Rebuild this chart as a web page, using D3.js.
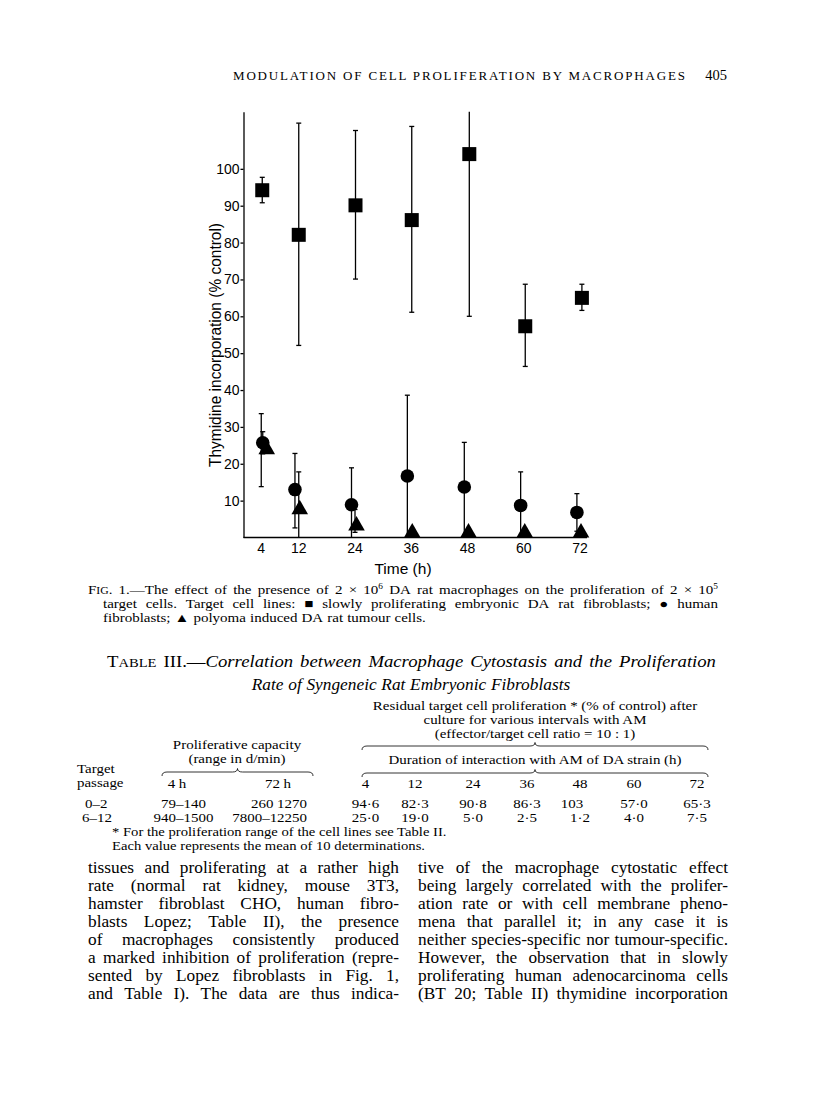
<!DOCTYPE html>
<html>
<head>
<meta charset="utf-8">
<script src="https://cdn.jsdelivr.net/npm/d3@7"></script>
<style>
  body { margin: 0; background: #fff; }
  svg { display: block; }
</style>
</head>
<body>
<svg id="page" width="816" height="1119"></svg>
<script>
"use strict";

// ---- data ----
const times = [4, 12, 24, 36, 48, 60, 72];
const yTicks = [10, 20, 30, 40, 50, 60, 70, 80, 90, 100];

// slowly proliferating embryonic DA rat fibroblasts (squares)
const fibroMean = [94.2, 82.1, 90.1, 86.1, 104.0, 57.3, 65.0];
const fibroLow  = [90.8, 52.1, 70.1, 61.1, 60.0, 46.4, 61.6];
const fibroHigh = [97.7, 112.4, 110.4, 111.5, 118, 68.7, 68.7];

// human fibroblasts (circles)
const humanMean = [25.7, 13.0, 8.9, 16.7, 13.7, 8.7, 6.8];
const humanLow  = [22.7, 2.6, 0, 0, 0, 0, 1.7];
const humanHigh = [28.7, 22.8, 18.9, 38.6, 25.8, 17.8, 11.9];

// polyoma induced DA rat tumour cells (triangles)
const tumourMean = [24.5, 8.2, 3.8, 1.9, 1.9, 1.9, 1.9];
const tumourLow  = [13.8, 0, 1.4, 1.9, 1.9, 1.9, 1.9];
const tumourHigh = [33.6, 17.8, 7.6, 1.9, 1.9, 1.9, 1.9];

// table III
const tableHours = ['4', '12', '24', '36', '48', '60', '72'];
const tablePassage = ['0–2', '6–12'];
const tableCap4h = ['79–140', '940–1500'];
const tableCap72h = ['260 1270', '7800–12250'];
const tableResidual = [
  ['94·6', '82·3', '90·8', '86·3', '103', '57·0', '65·3'],
  ['25·0', '19·0', '5·0', '2·5', '1·2', '4·0', '7·5']
];

// {..} small capitals, ^ superscript, _ starts italic
const captionLines = [
  'F{IG}. 1.—The effect of the presence of 2 × 10^6 DA rat macrophages on the proliferation of 2 × 10^5',
  'target cells.  Target cell lines: ■ slowly proliferating embryonic DA rat fibroblasts; ● human',
  'fibroblasts; ▲ polyoma induced DA rat tumour cells.'
];
const tableTitle = [
  'T{ABLE} III.—_Correlation between Macrophage Cytostasis and the Proliferation',
  '_Rate of Syngeneic Rat Embryonic Fibroblasts'
];
const leftColumn = [
  'tissues and proliferating at a rather high',
  'rate (normal rat kidney, mouse 3T3,',
  'hamster fibroblast CHO, human fibro-',
  'blasts Lopez; Table II), the presence',
  'of macrophages consistently produced',
  'a marked inhibition of proliferation (repre-',
  'sented by Lopez fibroblasts in Fig. 1,',
  'and Table I).  The data are thus indica-'
];
const rightColumn = [
  'tive of the macrophage cytostatic effect',
  'being largely correlated with the prolifer-',
  'ation rate or with cell membrane pheno-',
  'mena that parallel it; in any case it is',
  'neither species-specific nor tumour-specific.',
  'However, the observation that in slowly',
  'proliferating human adenocarcinoma cells',
  '(BT 20; Table II) thymidine incorporation'
];

const SERIF = '"Liberation Serif", "DejaVu Serif", serif';
const SANS = '"Liberation Sans", Arial, sans-serif';

const svg = d3.select('#page');
svg.append('rect').attr('width', 816).attr('height', 1119).attr('fill', '#fff');

// the book face is wider than Times, so glyphs get stretched a bit
function widen(sel, k) {
  sel.each(function () {
    const w = this.getComputedTextLength();
    d3.select(this).attr('textLength', w * k).attr('lengthAdjust', 'spacingAndGlyphs');
  });
  return sel;
}

function addWord(t, w, state) {
  w.split(/(\{[^}]*\}|\^\S*|_)/).filter(p => p !== '').forEach(p => {
    if (p === '_') { state.italic = true; return; }
    const ts = t.append('tspan');
    if (state.italic) ts.attr('font-style', 'italic');
    if (p[0] === '{') ts.attr('font-size', '0.78em').text(p.slice(1, -1));
    else if (p[0] === '^') ts.attr('font-size', '0.62em').attr('dy', -5).text(p.slice(1));
    else ts.text(p);
  });
}

// set a line word by word; full justification unless natural
function setLine(g, str, x0, yy, width, k, natural) {
  const state = { italic: false };
  const words = str.split(/\s+/);
  const nodes = words.map(w => {
    const t = g.append('text').attr('y', yy);
    addWord(t, w, state);
    return t;
  });
  const ws = nodes.map(t => t.node().getComputedTextLength() * k);
  nodes.forEach((t, i) => t.attr('textLength', ws[i]).attr('lengthAdjust', 'spacingAndGlyphs'));
  const fs = +g.attr('font-size');
  const gap = natural ? fs * 0.27 * k : (width - d3.sum(ws)) / (words.length - 1);
  let cx = x0;
  if (natural === 'middle') cx = x0 - (d3.sum(ws) + gap * (words.length - 1)) / 2;
  nodes.forEach((t, i) => { t.attr('x', cx); cx += ws[i] + gap; });
}

// ---- running head ----
svg.append('text')
  .attr('x', 233).attr('y', 80)
  .attr('font-family', SERIF).attr('font-size', 13)
  .attr('textLength', 452).attr('lengthAdjust', 'spacing')
  .text('MODULATION OF CELL PROLIFERATION BY MACROPHAGES');
svg.append('text')
  .attr('x', 727).attr('y', 80).attr('text-anchor', 'end')
  .attr('font-family', SERIF).attr('font-size', 14.5)
  .text('405');

// ---- the chart ----
const x = d3.scaleLinear().domain([0, 73.6]).range([242, 587]);
const y = d3.scaleLinear().domain([0, 115.5]).range([537.5, 111.7]);

const chart = svg.append('g').attr('font-family', SANS);

const yAxis = d3.axisLeft(y).tickValues(yTicks).tickSize(3).tickSizeOuter(0).tickPadding(1);
chart.append('g')
  .attr('transform', 'translate(243.5,0)')
  .call(yAxis)
  .call(g => g.selectAll('text').attr('font-size', 14).attr('font-family', SANS).attr('fill', '#000'))
  .call(g => g.selectAll('line, path').attr('stroke', '#000').attr('stroke-width', 1.3));

const xAxis = d3.axisBottom(x).tickValues(times).tickSize(0).tickSizeOuter(0).tickPadding(6);
chart.append('g')
  .attr('transform', 'translate(0,537.5)')
  .call(xAxis)
  .call(g => g.select('.domain').attr('d', `M${243.5},0H${x.range()[1]}`))
  .call(g => g.selectAll('text').attr('font-size', 14).attr('font-family', SANS).attr('fill', '#000'))
  .call(g => g.selectAll('line, path').attr('stroke', '#000').attr('stroke-width', 1.3));

chart.append('text')
  .attr('x', 403).attr('y', 574).attr('text-anchor', 'middle')
  .attr('font-size', 15.5)
  .text('Time  (h)');

chart.append('text')
  .attr('transform', 'translate(221,345) rotate(-90)')
  .attr('text-anchor', 'middle')
  .attr('font-size', 16)
  .attr('textLength', 244).attr('lengthAdjust', 'spacingAndGlyphs')
  .text('Thymidine  incorporation  (% control)');

const yTop = y.domain()[1];

function errorBars(low, high, dx) {
  const g = chart.append('g').attr('stroke', '#000').attr('stroke-width', 1.3);
  times.forEach((t, i) => {
    if (high[i] - low[i] < 0.5) return;
    const cx = x(t) + dx[i];
    const hi = Math.min(high[i], yTop);
    g.append('line')
      .attr('x1', cx).attr('x2', cx)
      .attr('y1', y(low[i])).attr('y2', y(hi));
    if (high[i] < yTop) {
      g.append('line').attr('x1', cx - 2.5).attr('x2', cx + 2.5)
        .attr('y1', y(high[i])).attr('y2', y(high[i]));
    }
    if (low[i] > 0) {
      g.append('line').attr('x1', cx - 2.5).attr('x2', cx + 2.5)
        .attr('y1', y(low[i])).attr('y2', y(low[i]));
    }
  });
}

// small horizontal dodge of each series, in px
const sqDx = [1.5, 0.5, 1, 1, 2.3, 2, 2.4];
const triDx = [6, 1.5, 2, 1.5, 1.5, 1.5, 1.5];
const circDx = [2, -3.3, -3, -3.4, -2.7, -2.6, -2.6];

// squares
errorBars(fibroLow, fibroHigh, sqDx);
chart.append('g').selectAll('rect')
  .data(times)
  .join('rect')
  .attr('x', (t, i) => x(t) + sqDx[i] - 7)
  .attr('y', (t, i) => y(fibroMean[i]) - 7)
  .attr('width', 14).attr('height', 14)
  .attr('fill', '#000');

// triangles
errorBars(tumourLow, tumourHigh, times.map(() => 0.5));
chart.append('g').selectAll('path')
  .data(times)
  .join('path')
  .attr('d', (t, i) => {
    const cx = x(t) + triDx[i], cy = y(tumourMean[i]);
    return `M${cx},${cy - 7.5}L${cx + 8.3},${cy + 7}L${cx - 8.3},${cy + 7}Z`;
  })
  .attr('fill', '#000');

// circles
errorBars(humanLow, humanHigh, circDx);
chart.append('g').selectAll('circle')
  .data(times)
  .join('circle')
  .attr('cx', (t, i) => x(t) + circDx[i])
  .attr('cy', (t, i) => y(humanMean[i]))
  .attr('r', 6.8)
  .attr('fill', '#000');

// ---- caption ----
const cap = svg.append('g').attr('font-family', SERIF).attr('font-size', 12.5);
setLine(cap, captionLines[0], 88, 594, 630, 1.2);
setLine(cap, captionLines[1], 103, 608, 615, 1.2);
setLine(cap, captionLines[2], 103, 622, 0, 1.2, true);

// ---- table III ----
const tt = svg.append('g').attr('font-family', SERIF).attr('font-size', 17);
setLine(tt, tableTitle[0], 107, 667, 609, 1.1);
setLine(tt, tableTitle[1], 411, 690, 0, 1.02, 'middle');

const tab = svg.append('g').attr('font-family', SERIF).attr('font-size', 13);
const K = 1.15;
const midR = 535;
[['Residual target cell proliferation * (% of control) after', 710],
 ['culture for various intervals with AM', 724],
 ['(effector/target cell ratio = 10 : 1)', 738],
 ['Duration of interaction with AM of DA strain (h)', 764]].forEach(([s, yy]) => {
  widen(tab.append('text').attr('x', midR).attr('y', yy).attr('text-anchor', 'middle').text(s), K);
});
widen(tab.append('text').attr('x', 237).attr('y', 749).attr('text-anchor', 'middle').text('Proliferative capacity'), K);
widen(tab.append('text').attr('x', 237).attr('y', 763).attr('text-anchor', 'middle').text('(range in d/min)'), K);
widen(tab.append('text').attr('x', 77).attr('y', 773).text('Target'), K);
widen(tab.append('text').attr('x', 77).attr('y', 787).text('passage'), K);

function brace(x0, x1, yy) {
  const m = (x0 + x1) / 2;
  const p = d3.path();
  p.moveTo(x0, yy + 4);
  p.quadraticCurveTo(x0, yy, x0 + 5, yy);
  p.lineTo(m - 5, yy);
  p.quadraticCurveTo(m, yy, m, yy - 3.5);
  p.quadraticCurveTo(m, yy, m + 5, yy);
  p.lineTo(x1 - 5, yy);
  p.quadraticCurveTo(x1, yy, x1, yy + 4);
  tab.append('path').attr('d', p.toString())
    .attr('fill', 'none').attr('stroke', '#000').attr('stroke-width', 0.8);
}
brace(362, 708, 746);
brace(162, 313, 772);
brace(362, 708, 773);

const hourCols = [365.5, 415, 473, 527, 580, 634, 697];
widen(tab.append('text').attr('x', 177).attr('y', 788).attr('text-anchor', 'middle').text('4 h'), K);
widen(tab.append('text').attr('x', 278).attr('y', 788).attr('text-anchor', 'middle').text('72 h'), K);
tableHours.forEach((h, i) => {
  widen(tab.append('text').attr('x', hourCols[i]).attr('y', 788).attr('text-anchor', 'middle').text(h), K);
});
const rowY = [808, 822];
tablePassage.forEach((p, r) => {
  widen(tab.append('text').attr('x', r ? 82 : 85).attr('y', rowY[r]).text(p), K);
  widen(tab.append('text').attr('x', 183.5).attr('y', rowY[r]).attr('text-anchor', 'middle').text(tableCap4h[r]), K);
  widen(tab.append('text').attr('x', 307).attr('y', rowY[r]).attr('text-anchor', 'end').text(tableCap72h[r]), K);
  tableResidual[r].forEach((v, i) => {
    const shift = v.indexOf('·') < 0 ? -8 : 0;
    widen(tab.append('text').attr('x', hourCols[i] + shift).attr('y', rowY[r]).attr('text-anchor', 'middle').text(v), K);
  });
});
widen(tab.append('text').attr('x', 112).attr('y', 836).attr('font-size', 12)
  .text('* For the proliferation range of the cell lines see Table II.'), 1.22);
widen(tab.append('text').attr('x', 112).attr('y', 850).attr('font-size', 12)
  .text('Each value represents the mean of 10 determinations.'), 1.22);

// ---- body text ----
const body = svg.append('g').attr('font-family', SERIF).attr('font-size', 16);
leftColumn.forEach((s, i) => setLine(body, s, 88, 873 + i * 18, 311, 1.08));
rightColumn.forEach((s, i) => setLine(body, s, 418, 873 + i * 18, 310, 1.08));
</script>
</body>
</html>
